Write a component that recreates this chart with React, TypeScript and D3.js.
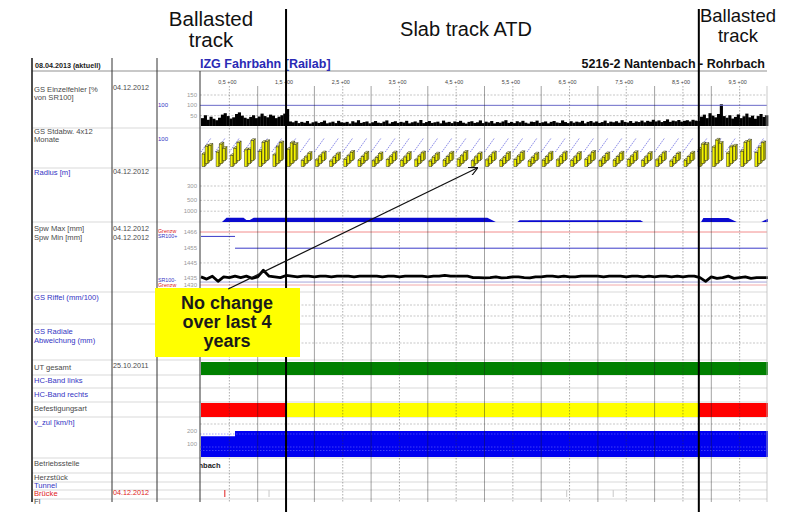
import React from "react";
import * as d3 from "d3";

// ---------------- data ----------------
const kmHalfTicks = [0.5, 1.5, 2.5, 3.5, 4.5, 5.5, 6.5, 7.5, 8.5, 9.5];
const kmTickLabels = ["0,5 +00", "1,5 +00", "2,5 +00", "3,5 +00", "4,5 +00", "5,5 +00", "6,5 +00", "7,5 +00", "8,5 +00", "9,5 +00"];
const kmMajor = [1, 2, 3, 4, 5, 6, 7, 8, 9];

// GS Einzelfehler [% von SR100], one value per 0.05 km
const einzelStepKm = 0.05;
const einzelfehler = [
  38, 52, 30, 45, 35, 28, 40, 55, 62, 48, 36, 42, 58, 66, 50, 40, 35, 44, 52, 38, 46, 60, 48, 42, 55, 50, 38, 45, 52, 60,
  82, 22, 18, 25, 14, 20, 16, 24, 12, 18,
  22, 15, 19, 26, 13, 17, 21, 14, 25, 18,
  16, 20, 12, 23, 17, 28, 15, 19, 22, 13,
  18, 24, 16, 14, 21, 27, 12, 19, 23, 15,
  20, 17, 25, 13, 18, 22, 16, 29, 14, 19,
  24, 15, 18, 21, 13, 26, 17, 20, 14, 22,
  19, 25, 16, 12, 20, 23, 15, 18, 27, 14,
  21, 17, 24, 13, 19, 16, 22, 28, 15, 20,
  14, 23, 18, 25, 16, 12, 21, 19, 26, 15,
  18, 22, 13, 20, 24, 17, 15, 27, 19, 14,
  23, 16, 21, 18, 25, 13, 20, 24, 17, 22,
  15, 19, 26, 14, 21, 18, 23, 16, 28, 20,
  17, 24, 15, 22, 19, 26, 18, 25, 21, 30,
  22, 27, 19, 24, 32, 20, 26, 23, 29, 21,
  25, 28, 22, 30, 26, 24,
  45, 55, 38, 62, 50, 42, 58, 105, 48, 40, 52, 36, 44, 56, 38, 47, 60, 42, 50, 35, 48, 58, 44, 52,
];
const einzelLimit = 100;
const einzelTicks = [150, 100, 50];

// GS Stdabw. 4x12 Monate, groups every 0.25 km, three bars per group
const stdGroupKm = 0.25;
const stdBarA = [45, 52, 40, 60, 55, 42, 62,
  22, 24, 20, 26, 23, 21, 25, 22, 24, 20, 23, 26, 21, 24, 22, 25, 20, 23, 24, 22, 26, 21, 23, 25, 22, 24, 20, 23,
  62, 70, 48, 55, 50];
const stdBarB = [62, 70, 55, 50, 76, 60, 74,
  24, 27, 23, 28, 25, 22, 26, 24, 27, 23, 25, 28, 24, 26, 23, 27, 22, 25, 26, 24, 28, 23, 25, 27, 24, 26, 23, 25,
  70, 84, 60, 76, 58];
const stdBarC = [55, 44, 64, 72, 68, 64, 58,
  26, 28, 24, 30, 27, 25, 28, 26, 28, 24, 27, 30, 25, 28, 26, 29, 24, 27, 28, 26, 30, 25, 27, 29, 26, 28, 25, 27,
  58, 62, 52, 70, 64];

// Radius: curvature 1000/R along km
const radiusKm = [0, 0.37, 0.45, 0.75, 0.8, 0.86, 0.93, 5.05, 5.2, 5.58, 5.62, 7.75, 7.8, 8.82, 8.86, 9.3, 9.45, 9.88, 10];
const radiusCurv = [0, 0, 0.4, 0.4, 0.18, 0.18, 0.4, 0.4, 0, 0, 0.16, 0.16, 0, 0, 0.36, 0.36, 0, 0, 0.3];
const radiusTicks = [300, 500, 1000];

// Spurweite, one value per 0.1 km
const spwStepKm = 0.1;
const spwValues = [
  1435.5, 1434, 1436, 1432.5, 1435.5, 1435, 1436, 1435, 1436, 1434.5, 1435.5, 1440, 1436, 1435.5, 1435,
  1436.5,
  1436, 1435.5, 1436, 1436, 1435.5, 1436, 1436, 1435.5, 1436, 1436,
  1436, 1435.5, 1436, 1436, 1436, 1436, 1435.5, 1436, 1436, 1435.5,
  1436, 1436, 1436, 1436, 1435.5, 1436, 1436, 1436.5, 1436, 1436,
  1436, 1436, 1435, 1435, 1434.8, 1435, 1435.5, 1434.8, 1435, 1435.5,
  1435.5, 1435, 1434.8, 1435.5, 1435.5, 1436, 1436, 1435.5, 1436, 1435.5,
  1435.5, 1436, 1436, 1436, 1436, 1435.5, 1436, 1436, 1436, 1435.5,
  1436, 1436, 1435.5, 1436, 1435.5, 1436, 1436, 1435.5, 1436, 1435.5, 1436, 1436,
  1435, 1432.5, 1435.5, 1434.5, 1435, 1436, 1434.5, 1435, 1435.5, 1434.5, 1435, 1435,
];
const spwGrenzOben = 1466;
const spwGrenzUnten = 1430;
const sr100PlusStart = [0, 0.6];
const sr100PlusEnd = [0.6, 10];
const sr100PlusVal = [1463, 1455];
const sr100Minus = 1432;
const spwTicks = [1466, 1455, 1445, 1435, 1430];

// UT gesamt / Befestigungsart / v_zul / Brücke
const utKm = [0, 10];
const fastKmStart = [0, 1.5, 8.78];
const fastKmEnd = [1.5, 8.78, 10];
const fastType = ["Schotter", "Feste Fahrbahn", "Schotter"];
const vzulKm = [0, 0.6, 10];
const vzulVal = [160, 200, 200];
const vzulTicks = [200, 100];
const brueckeKm = [0.42, 1.2, 6.45, 7.27];
const brueckeAktuell = [true, false, false, false];

// annotations
const sectionBoundaryKm = [1.5, 8.78];
const arrowFromKm = 0.48;
const arrowToKm = 4.87;

// ---------------- component ----------------
const F = "'Liberation Sans', Arial, Helvetica, sans-serif";
const BLUE_TXT = "#3434c4";
const GREY_TXT = "#4a4a4a";
const RED_TXT = "#e02020";

export default function App() {
  const x = d3.scaleLinear().domain([0, 10]).range([201, 768]);
  const yE = d3.scaleLinear().domain([0, 150]).range([126, 95]);
  const yS = d3.scaleLinear().domain([0, 100]).range([167, 139]);
  const yR = d3.scaleLinear().domain([0, 1000 / 300]).range([222, 186]);
  const ySp = d3.scaleLinear().domain([1430, 1466]).range([285, 232]);
  const yV = d3.scaleLinear().domain([0, 200]).range([457, 431]);

  const plotL = 200, plotR = 767, top = 58, bottom = 502;
  const colX = [32, 112, 157, 200];

  const rowSeps = [128, 168, 222, 292, 324, 360, 375, 388, 402, 417, 458, 473, 482, 490, 499];
  const dashedH = [yE(150), yE(50), yR(1000 / 300), yR(2), yR(1), ySp(1445), 305, 316, 343, 424];

  const labels: { t: string; y: number; c: string }[] = [
    { t: "GS Einzelfehler [%", y: 92, c: GREY_TXT },
    { t: "von SR100]", y: 100, c: GREY_TXT },
    { t: "GS Stdabw. 4x12", y: 134, c: GREY_TXT },
    { t: "Monate", y: 142, c: GREY_TXT },
    { t: "Radius [m]", y: 175, c: BLUE_TXT },
    { t: "Spw Max [mm]", y: 231, c: GREY_TXT },
    { t: "Spw Min [mm]", y: 240, c: GREY_TXT },
    { t: "GS Riffel (mm/100)", y: 300, c: BLUE_TXT },
    { t: "GS Radiale", y: 334, c: BLUE_TXT },
    { t: "Abweichung (mm)", y: 343, c: BLUE_TXT },
    { t: "UT gesamt", y: 370, c: GREY_TXT },
    { t: "HC-Band links", y: 383, c: BLUE_TXT },
    { t: "HC-Band rechts", y: 397, c: BLUE_TXT },
    { t: "Befestigungsart", y: 411, c: GREY_TXT },
    { t: "v_zul [km/h]", y: 425, c: BLUE_TXT },
    { t: "Betriebsstelle", y: 466, c: GREY_TXT },
    { t: "Herzstück", y: 480, c: GREY_TXT },
    { t: "Tunnel", y: 488, c: BLUE_TXT },
    { t: "Brücke", y: 496, c: RED_TXT },
    { t: "Fl", y: 504, c: GREY_TXT },
  ];
  const dates: { t: string; y: number; c: string }[] = [
    { t: "04.12.2012", y: 90, c: GREY_TXT },
    { t: "04.12.2012", y: 174, c: GREY_TXT },
    { t: "04.12.2012", y: 231, c: GREY_TXT },
    { t: "04.12.2012", y: 240, c: GREY_TXT },
    { t: "25.10.2011", y: 368, c: GREY_TXT },
    { t: "04.12.2012", y: 495, c: RED_TXT },
  ];

  const colorFor = (t: string) => (t === "Schotter" ? "#ff0000" : "#ffff00");

  const radiusArea = d3.area<number>()
    .x((_, i) => x(radiusKm[i]))
    .y0(yR(0))
    .y1((c) => yR(c))(radiusCurv) || "";

  const vArea = d3.area<number>()
    .curve(d3.curveStepAfter)
    .x((_, i) => x(vzulKm[i]))
    .y0(yV(0))
    .y1((v) => yV(v))(vzulVal) || "";

  const spwPts: [number, number][] = spwValues.map((v, i) => [i * spwStepKm, v]);
  spwPts.push([10, spwValues[spwValues.length - 1]]);
  const spwLine = d3.line<[number, number]>().x((d) => x(d[0])).y((d) => ySp(d[1]))(spwPts) || "";

  const barW = x(einzelStepKm) - x(0);

  // 3D yellow bars
  const boxes: JSX.Element[] = [];
  const thresholds: JSX.Element[] = [];
  stdBarA.forEach((_, g) => {
    const gx = x(g * stdGroupKm) + 1;
    thresholds.push(
      <line key={"th" + g} x1={gx - 1} y1={yS(100) + 13} x2={gx + 9} y2={yS(100) - 1}
        stroke="#4a4ad8" strokeWidth={0.7} strokeDasharray="1.5,1" />
    );
    [stdBarA[g], stdBarB[g], stdBarC[g]].forEach((v, j) => {
      const w = 2.8, d = 1.6;
      const bx = gx + j * 3.2;
      const by = yS(0) - 0.5 - j * 3;
      const h = yS(0) - yS(v);
      boxes.push(
        <g key={`b${g}-${j}`} stroke="#111" strokeWidth={0.45} fill="#f4f400">
          <path d={`M${bx},${by}h${w}v${-h}h${-w}Z`} />
          <path d={`M${bx},${by - h}l${d},${-d}h${w}l${-d},${d}Z`} fill="#fcfc80" />
          <path d={`M${bx + w},${by}l${d},${-d}v${-h}l${-d},${d}Z`} fill="#c4c400" />
        </g>
      );
    });
  });

  const ax0 = x(arrowFromKm), ax1 = x(arrowToKm);

  return (
    <svg width={802} height={516} style={{ position: "absolute", left: 0, top: 0, background: "#fff" }}
      fontFamily={F}>
      <defs>
        <marker id="arrowHead" viewBox="0 0 10 10" refX={9} refY={5} markerWidth={9} markerHeight={9}
          orient="auto" markerUnits="userSpaceOnUse">
          <path d="M0,0L10,5L0,10" fill="none" stroke="#111" strokeWidth={1.3} />
        </marker>
        <clipPath id="plotClip">
          <rect x={plotL} y={top} width={plotR - plotL} height={bottom - top} />
        </clipPath>
      </defs>
      <rect x={0} y={0} width={802} height={516} fill="#fff" />

      {/* header */}
      <line x1={colX[0]} x2={plotR} y1={71} y2={71} stroke="#c8c8c8" strokeWidth={2} />
      <text x={35} y={68} fontSize={7.2} fontWeight="bold" fill="#222">08.04.2013 (aktuell)</text>
      <text x={plotL} y={68} fontSize={12.5} fontWeight="bold" fill="#2a2ab5">IZG Fahrbahn [Railab]</text>
      <text x={765} y={68} fontSize={12.5} fontWeight="bold" fill="#111" textAnchor="end">5216-2 Nantenbach - Rohrbach</text>

      {/* km tick labels */}
      {kmHalfTicks.map((k, i) => (
        <text key={"kt" + i} x={x(k) - 2} y={84} fontSize={5.4} fill="#444" textAnchor="middle">{kmTickLabels[i]}</text>
      ))}

      {/* row separators */}
      {rowSeps.map((y, i) => (
        <line key={"rs" + i} x1={colX[0]} x2={plotR} y1={y} y2={y} stroke="#cfcfcf" strokeWidth={0.8} />
      ))}
      {/* dashed horizontal gridlines */}
      {dashedH.map((y, i) => (
        <line key={"dh" + i} x1={plotL} x2={plotR} y1={y} y2={y} stroke="#b0b0b0" strokeWidth={0.7} strokeDasharray="2,1.5" />
      ))}

      {/* row 1: Einzelfehler */}
      <g>
        {einzelfehler.map((v, i) => (
          <rect key={"e" + i} x={x(i * einzelStepKm)} width={barW + 0.3} y={yE(v)} height={yE(0) - yE(v)} fill="#000" />
        ))}
        <line x1={plotL} x2={plotR} y1={yE(einzelLimit)} y2={yE(einzelLimit)} stroke="#6a6ac8" strokeWidth={1} />
        {einzelTicks.map((t) => (
          <text key={"et" + t} x={197} y={yE(t) + 2} fontSize={6} fill="#999" textAnchor="end">{t}</text>
        ))}
        <text x={158} y={yE(einzelLimit) + 2} fontSize={6} fill={BLUE_TXT}>100</text>
      </g>

      {/* row 2: Stdabw 3D bars */}
      <g>
        {thresholds}
        {boxes}
        <text x={158} y={141} fontSize={6} fill={BLUE_TXT}>100</text>
      </g>

      {/* row 3: Radius */}
      <g>
        <path d={radiusArea} fill="#0a0ad0" />
        {radiusTicks.map((r) => (
          <text key={"rt" + r} x={197} y={yR(1000 / r) + 2} fontSize={6} fill="#999" textAnchor="end">{r}</text>
        ))}
      </g>

      {/* row 4: Spurweite */}
      <g>
        <line x1={plotL} x2={plotR} y1={ySp(spwGrenzOben)} y2={ySp(spwGrenzOben)} stroke="#f08080" strokeWidth={0.9} />
        {sr100PlusStart.map((s, i) => (
          <line key={"sr" + i} x1={x(s)} x2={x(sr100PlusEnd[i])} y1={ySp(sr100PlusVal[i])} y2={ySp(sr100PlusVal[i])}
            stroke="#3a3ac8" strokeWidth={1} />
        ))}
        <line x1={plotL} x2={plotR} y1={ySp(sr100Minus)} y2={ySp(sr100Minus)} stroke="#9a9ad8" strokeWidth={0.9} />
        <line x1={plotL} x2={plotR} y1={ySp(spwGrenzUnten)} y2={ySp(spwGrenzUnten)} stroke="#f0a0a0" strokeWidth={0.9} />
        <path d={spwLine} fill="none" stroke="#000" strokeWidth={2.8} strokeLinejoin="round" />
        {spwTicks.map((t) => (
          <text key={"st" + t} x={197} y={ySp(t) + 2} fontSize={6} fill="#999" textAnchor="end">{t}</text>
        ))}
        <text x={158} y={ySp(spwGrenzOben) + 1} fontSize={5.3} fill={RED_TXT}>Grenzw</text>
        <text x={158} y={ySp(1463) + 2} fontSize={5.3} fill={BLUE_TXT}>SR100+</text>
        <text x={158} y={ySp(sr100Minus)} fontSize={5.3} fill={BLUE_TXT}>SR100-</text>
        <text x={158} y={ySp(spwGrenzUnten) + 2} fontSize={5.3} fill={RED_TXT}>Grenzw</text>
      </g>

      {/* UT gesamt */}
      <rect x={x(utKm[0])} width={x(utKm[1]) - x(utKm[0])} y={362} height={13} fill="#008000" />

      {/* Befestigungsart */}
      {fastKmStart.map((s, i) => (
        <rect key={"f" + i} x={x(s)} width={x(fastKmEnd[i]) - x(s)} y={403} height={14} fill={colorFor(fastType[i])} />
      ))}

      {/* v_zul */}
      <g>
        <path d={vArea} fill="#0000f0" />
        {vzulTicks.map((t) => (
          <g key={"vt" + t}>
            <line x1={plotL} x2={plotR} y1={yV(t) + 3} y2={yV(t) + 3} stroke="#6a6aff" strokeWidth={0.6} strokeDasharray="1.5,1.5" />
            <text x={197} y={yV(t) + 2} fontSize={6} fill="#999" textAnchor="end">{t}</text>
          </g>
        ))}
        <line x1={plotL} x2={plotR} y1={yV(50)} y2={yV(50)} stroke="#6a6aff" strokeWidth={0.6} strokeDasharray="1.5,1.5" />
      </g>

      {/* Betriebsstelle */}
      <g clipPath="url(#plotClip)">
        <text x={198.5} y={468} fontSize={7.5} fontWeight="bold" fill="#222">nbach</text>
      </g>

      {/* Brücke */}
      {brueckeKm.map((k, i) => (
        <line key={"br" + i} x1={x(k)} x2={x(k)} y1={490} y2={497}
          stroke={brueckeAktuell[i] ? "#e02020" : "#c8c8c8"} strokeWidth={1} />
      ))}

      {/* vertical grid */}
      {kmMajor.map((k) => (
        <line key={"vm" + k} x1={x(k)} x2={x(k)} y1={86} y2={bottom} stroke="#1a1a1a" strokeOpacity={0.45} strokeWidth={0.9} />
      ))}
      {kmHalfTicks.map((k) => (
        <line key={"vh" + k} x1={x(k)} x2={x(k)} y1={86} y2={bottom} stroke="#333" strokeOpacity={0.5} strokeWidth={0.8} strokeDasharray="1.5,1.5" />
      ))}
      <line x1={plotR} x2={plotR} y1={86} y2={bottom} stroke="#bbb" strokeWidth={0.8} />

      {/* table columns */}
      <line x1={colX[0]} x2={colX[0]} y1={top} y2={bottom} stroke="#222" strokeWidth={1.6} />
      <line x1={colX[1]} x2={colX[1]} y1={top} y2={bottom} stroke="#333" strokeWidth={1} />
      <line x1={colX[2]} x2={colX[2]} y1={top} y2={bottom} stroke="#333" strokeWidth={1} />
      <line x1={colX[3]} x2={colX[3]} y1={top + 13} y2={bottom} stroke="#333" strokeWidth={1} />

      {labels.map((l, i) => (
        <text key={"l" + i} x={34} y={l.y} fontSize={7.6} fill={l.c}>{l.t}</text>
      ))}
      {dates.map((d, i) => (
        <text key={"d" + i} x={113} y={d.y} fontSize={7.2} fill={d.c}>{d.t}</text>
      ))}

      {/* annotations */}
      {sectionBoundaryKm.map((k, i) => (
        <line key={"sb" + i} x1={x(k)} x2={x(k)} y1={9} y2={512} stroke="#000" strokeWidth={2} />
      ))}
      <text fontSize={20.5} fill="#111" textAnchor="middle">
        <tspan x={211} y={26}>Ballasted</tspan>
        <tspan x={211} y={47}>track</tspan>
      </text>
      <text x={466} y={36} fontSize={20} fill="#111" textAnchor="middle">Slab track ATD</text>
      <text fontSize={18.5} fill="#111" textAnchor="middle">
        <tspan x={738} y={22}>Ballasted</tspan>
        <tspan x={738} y={42}>track</tspan>
      </text>

      <rect x={155} y={288} width={145} height={69} fill="#ffff00" />
      <text fontSize={18} fontWeight="bold" fill="#1a1a1a" textAnchor="middle">
        <tspan x={227} y={309}>No change</tspan>
        <tspan x={227} y={328}>over last 4</tspan>
        <tspan x={227} y={347}>years</tspan>
      </text>
      <line x1={ax0} y1={289} x2={ax1} y2={168} stroke="#111" strokeWidth={1.2} markerEnd="url(#arrowHead)" />
    </svg>
  );
}
